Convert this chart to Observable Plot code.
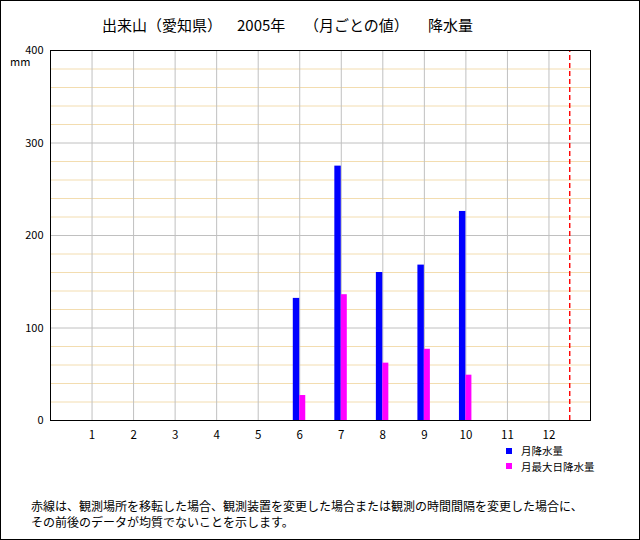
<!DOCTYPE html>
<html>
<head>
<meta charset="utf-8">
<script src="https://cdn.jsdelivr.net/npm/d3@7"></script>
<script src="https://cdn.jsdelivr.net/npm/@observablehq/plot@0.6"></script>
<style>
  html, body { margin: 0; padding: 0; background: #fff; }
  #chart { position: relative; width: 640px; height: 540px; font-family: "Noto Sans CJK JP", sans-serif; color: #000; overflow: hidden; }
  #chart svg { position: absolute; left: 0; top: 0; }
  .t { position: absolute; white-space: nowrap; line-height: 1; }
  #border { position: absolute; left: 0; top: 0; width: 640px; height: 540px; box-sizing: border-box; border: 1px solid #000; pointer-events: none; }
  .sw { position: absolute; width: 6px; height: 6px; }
</style>
</head>
<body>
<div id="chart">
  <div class="t" style="left:102px; top:17px; font-size:15px;">出来山（愛知県）</div>
  <div class="t" style="left:237px; top:17px; font-size:15px;">2005年</div>
  <div class="t" style="left:304px; top:17px; font-size:15px;">（月ごとの値）</div>
  <div class="t" style="left:428px; top:17px; font-size:15px;">降水量</div>
  <div class="t" style="left:10px; top:56px; font-size:11px;">mm</div>
  <div class="sw" style="left:506px; top:448px; background:#0000ff;"></div>
  <div class="t" style="left:521px; top:446px; font-size:10.5px;">月降水量</div>
  <div class="sw" style="left:506px; top:463px; background:#ff00ff;"></div>
  <div class="t" style="left:521px; top:461.5px; font-size:10.5px;">月最大日降水量</div>
  <div class="t" style="left:31px; top:500px; font-size:12px;">赤線は、観測場所を移転した場合、観測装置を変更した場合または観測の時間間隔を変更した場合に、</div>
  <div class="t" style="left:31px; top:516px; font-size:12px;">その前後のデータが均質でないことを示します。</div>
  <div id="border"></div>
</div>
<script>
const months = [6, 7, 8, 9, 10];
const monthlyPrecip = [132, 275, 160, 168, 226];
const maxDailyPrecip = [27, 136, 62, 77, 49];
const xTicks = [1, 2, 3, 4, 5, 6, 7, 8, 9, 10, 11, 12];
const yTicks = [0, 100, 200, 300, 400];
const changePoint = [12.5];

const data = months.map((m, i) => ({month: m, total: monthlyPrecip[i], maxDay: maxDailyPrecip[i]}));
const minorGrid = d3.range(20, 400, 20).filter(v => v % 100 !== 0);
const majorGrid = [100, 200, 300];

const plot = Plot.plot({
  width: 640,
  height: 460,
  marginLeft: 50,
  marginRight: 50,
  marginTop: 50,
  marginBottom: 40,
  style: {fontFamily: '"Noto Sans CJK JP", sans-serif', fontSize: "11px", color: "#000", background: "transparent"},
  x: {type: "linear", domain: [0, 13]},
  y: {domain: [0, 400]},
  marks: [
    Plot.ruleY(minorGrid, {stroke: "#f3ddb0", strokeWidth: 1, strokeOpacity: 1}),
    Plot.ruleY(majorGrid, {stroke: "#c0c0c0", strokeWidth: 1, strokeOpacity: 1}),
    Plot.ruleX(xTicks, {y1: 0, y2: 400, stroke: "#c0c0c0", strokeWidth: 1, strokeOpacity: 1}),
    Plot.ruleX(changePoint, {y1: 0, y2: 400, stroke: "#ff0000", strokeWidth: 1.4, strokeOpacity: 1, strokeDasharray: "5,3"}),
    Plot.rect(data, {x1: d => d.month - 0.155, x2: d => d.month, y1: 0, y2: "total", fill: "#0000ff"}),
    Plot.rect(data, {x1: d => d.month, x2: d => d.month + 0.145, y1: 0, y2: "maxDay", fill: "#ff00ff"}),
    Plot.frame({stroke: "#000", strokeWidth: 1}),
    Plot.axisX({ticks: xTicks, tickSize: 0, tickPadding: 10, tickFormat: d => String(d), label: null, fontSize: 11.5}),
    Plot.axisY({ticks: yTicks, tickSize: 0, tickPadding: 7, tickFormat: d => String(d), label: null, fontSize: 11})
  ]
});
document.getElementById("chart").insertBefore(plot, document.getElementById("border"));
</script>
</body>
</html>
